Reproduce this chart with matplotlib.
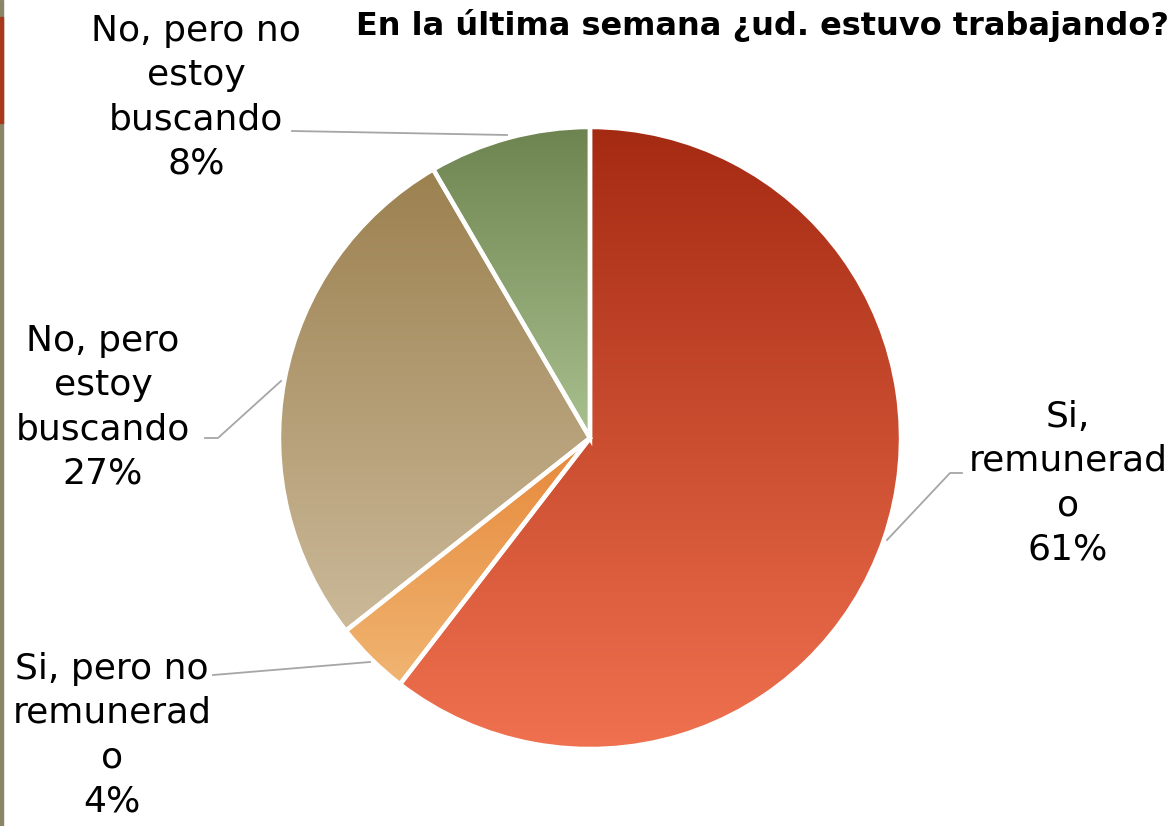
import numpy as np
import matplotlib
matplotlib.use("Agg")
import matplotlib.pyplot as plt
from matplotlib.colors import LinearSegmentedColormap
from matplotlib.patches import Rectangle

# ---- data ----
categories = ["Si,\nremunerad\no", "Si, pero no\nremunerad\no",
              "No, pero\nestoy\nbuscando", "No, pero no\nestoy\nbuscando"]
values = [60.4, 3.9, 27.2, 8.4]
pct_labels = ["61%", "4%", "27%", "8%"]
title = "En la última semana ¿ud. estuvo trabajando?"

# ---- styles ----
grad_top = ["#A52A12", "#E6883A", "#9C8150", "#6E8450"]
grad_bot = ["#F0714F", "#F0B572", "#CBB999", "#A9C08F"]
label_pos = [(1068, 343), (112, 91), (103, 419), (196, 729)]  # (x, y from bottom)
leaders = [
    [(887, 286), (950, 353), (962, 353)],
    [(213, 151), (370, 164)],
    [(205, 388), (218, 388), (281, 445)],
    [(292, 695), (507, 691)],
]

W, H = 1176, 826
fig = plt.figure(figsize=(W / 100, H / 100), dpi=100)
ax = fig.add_axes([0, 0, 1, 1])

center = (590, 388)
radius = 311
wedges, _ = ax.pie(values, startangle=90, counterclock=False, center=center,
                   radius=radius, frame=True,
                   wedgeprops=dict(edgecolor="white", linewidth=3.2))
ax.set_xlim(0, W)
ax.set_ylim(0, H)
ax.set_aspect("equal")
ax.axis("off")

for w, ct, cb in zip(wedges, grad_top, grad_bot):
    bb = w.get_path().get_extents()
    cmap = LinearSegmentedColormap.from_list("g", [cb, ct])
    grad = np.linspace(0, 1, 256).reshape(-1, 1)
    w.set_facecolor("none")
    im = ax.imshow(grad, cmap=cmap, origin="lower", aspect="auto",
                   extent=[bb.x0, bb.x1, bb.y0, bb.y1], zorder=1,
                   interpolation="bilinear")
    im.set_clip_path(w)
    w.set_zorder(2)

ax.set_xlim(0, W)
ax.set_ylim(0, H)

for cat, pct, (x, y) in zip(categories, pct_labels, label_pos):
    ax.text(x, y, cat + "\n" + pct, ha="center", va="center", fontsize=26,
            family="DejaVu Sans", linespacing=1.38, color="black", zorder=5)

for pts in leaders:
    xs, ys = zip(*pts)
    ax.plot(xs, ys, color="#A6A6A6", lw=1.3, zorder=3)

ax.text(762, 800, title, ha="center", va="center", fontsize=23,
        fontweight="bold", family="DejaVu Sans", zorder=5)

# slide border artifact on the left edge
fig.patches.append(Rectangle((0, 0), 3 / W, 1, transform=fig.transFigure,
                             color="#8A8468", zorder=10))
fig.patches.append(Rectangle((0, 1 - 123 / H), 3 / W, 106 / H,
                             transform=fig.transFigure, color="#A8381C", zorder=11))

fig.savefig("out.png", dpi=100)
